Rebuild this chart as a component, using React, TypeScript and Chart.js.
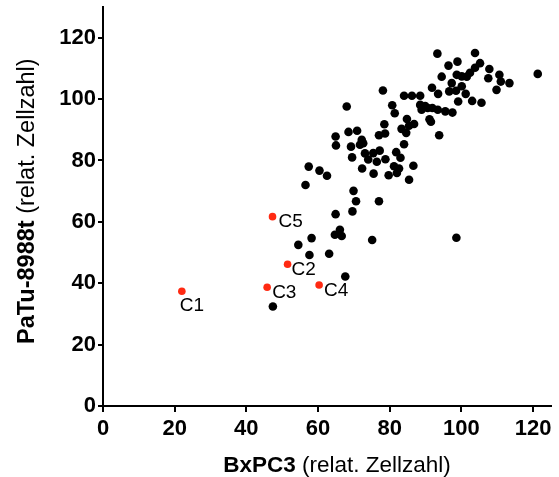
import { useEffect, useRef } from "react";
import { Chart, registerables } from "chart.js";

Chart.register(...registerables);

// ---- data ----
const blackX = [
  121.3, 93.3, 103.8, 96.4, 98.9, 105.2, 103.8, 107.8, 94.5, 98.7, 100.1, 101.5, 102.4,
  107.5, 110.6, 111.0, 113.4, 109.8, 97.3, 100.1, 91.8, 93.5, 96.6, 98.5, 101.2, 99.1,
  103.0, 105.6, 88.5, 86.2, 84.0, 78.1, 68.0, 80.7, 81.4, 88.5, 89.9, 88.9, 90.6, 91.9,
  93.4, 95.5, 97.5, 91.1, 91.5, 84.8, 83.3, 85.4, 86.8, 84.6, 78.5, 93.8, 68.5, 70.9,
  64.9, 72.2, 72.6, 71.7, 65.0, 69.2, 77.0, 78.7, 84.0, 69.5, 73.1, 75.4, 77.2, 74.0,
  76.4, 78.8, 81.8, 83.0, 81.2, 82.6, 82.0, 86.6, 72.3, 57.4, 60.4, 62.5, 75.5, 79.7,
  85.4, 56.5, 69.9, 70.6, 77.0, 64.9, 69.6, 54.5, 58.2, 64.7, 66.1, 66.6, 75.1, 98.6,
  57.6, 63.1, 67.6, 47.4,
];
const blackY = [
  108.2, 114.8, 115.0, 110.9, 112.2, 111.7, 110.2, 109.8, 107.3, 107.9, 107.4, 107.3, 108.6,
  106.8, 107.9, 105.7, 105.2, 103.0, 105.2, 104.2, 103.7, 101.7, 102.5, 102.7, 101.7, 99.2,
  99.4, 98.8, 101.1, 101.1, 101.1, 102.8, 97.6, 98.0, 95.4, 98.1, 97.7, 96.5, 97.1, 97.1,
  96.5, 96.0, 95.6, 93.4, 92.6, 93.5, 90.3, 91.3, 91.9, 89.0, 91.8, 88.2, 89.3, 89.7,
  87.8, 86.7, 85.6, 85.1, 84.9, 84.5, 88.2, 88.8, 85.3, 81.0, 82.3, 82.4, 83.2, 80.3,
  79.6, 80.4, 82.7, 80.9, 78.1, 77.4, 75.9, 78.3, 77.4, 78.0, 76.7, 75.0, 75.7, 75.2,
  73.7, 72.0, 70.1, 66.7, 66.7, 62.5, 63.4, 52.5, 54.7, 55.8, 57.4, 55.4, 54.1, 54.8,
  49.2, 49.6, 42.2, 32.4,
];
const redLabels = ["C1", "C2", "C3", "C4", "C5"];
const redX = [22.0, 51.5, 45.8, 60.3, 47.3];
const redY = [37.4, 46.2, 38.7, 39.4, 61.7];
const xTicks = [0, 20, 40, 60, 80, 100, 120];
const yTicks = [0, 20, 40, 60, 80, 100, 120];
const xTitleBold = "BxPC3";
const xTitleRest = " (relat. Zellzahl)";
const yTitleBold = "PaTu-8988t";
const yTitleRest = " (relat. Zellzahl)";

// ---- styles ----
const FONT = '"Liberation Sans", Arial, Helvetica, sans-serif';
const RED = "#ff2a12";
const labelOffsets: [number, number][] = [
  [-2, 15],
  [4, 6],
  [5, 6],
  [5, 6],
  [6, 5],
];

const pointLabelPlugin = {
  id: "pointLabels",
  afterDatasetsDraw(chart: any) {
    const meta = chart.getDatasetMeta(1);
    const ctx = chart.ctx;
    ctx.save();
    ctx.font = `19px ${FONT}`;
    ctx.fillStyle = "#000";
    ctx.textBaseline = "middle";
    ctx.textAlign = "left";
    meta.data.forEach((pt: any, i: number) => {
      const off = labelOffsets[i];
      ctx.fillText(redLabels[i], pt.x + off[0], pt.y + off[1]);
    });
    ctx.restore();
  },
};

const axisTitlePlugin = {
  id: "axisTitles",
  afterDraw(chart: any) {
    const { ctx, chartArea } = chart;
    ctx.save();
    ctx.fillStyle = "#000";
    ctx.textBaseline = "alphabetic";
    ctx.textAlign = "left";
    // x title
    const xb = `bold 22.5px ${FONT}`;
    const xr = `22.5px ${FONT}`;
    ctx.font = xb;
    const wb = ctx.measureText(xTitleBold).width;
    ctx.font = xr;
    const wr = ctx.measureText(xTitleRest).width;
    const cx = (chartArea.left + chartArea.right) / 2 + 10;
    const x0 = cx - (wb + wr) / 2;
    const by = chartArea.bottom + 66;
    ctx.font = xb;
    ctx.fillText(xTitleBold, x0, by);
    ctx.font = xr;
    ctx.fillText(xTitleRest, x0 + wb, by);
    // y title (reads bottom to top, starts near the x axis)
    const yB = `bold 23.5px ${FONT}`;
    const yR = `23.5px ${FONT}`;
    ctx.font = yB;
    const yb = ctx.measureText(yTitleBold).width;
    ctx.translate(chartArea.left - 69, chartArea.bottom - 62);
    ctx.rotate(-Math.PI / 2);
    ctx.fillText(yTitleBold, 0, 0);
    ctx.font = yR;
    ctx.fillText(yTitleRest, yb, 0);
    ctx.restore();
  },
};

export default function App() {
  const ref = useRef<HTMLCanvasElement | null>(null);

  useEffect(() => {
    if (!ref.current) return;
    const tickFont = { family: FONT, size: 22, weight: "bold" as const };
    const chart = new Chart(ref.current, {
      type: "scatter",
      data: {
        datasets: [
          {
            data: blackX.map((x, i) => ({ x, y: blackY[i] })),
            backgroundColor: "#000",
            borderWidth: 0,
            pointRadius: 4.3,
          },
          {
            data: redX.map((x, i) => ({ x, y: redY[i] })),
            backgroundColor: RED,
            borderWidth: 0,
            pointRadius: 3.8,
          },
        ],
      },
      options: {
        responsive: false,
        animation: false,
        layout: { padding: { top: 7, right: 8, left: 0, bottom: 0 } },
        plugins: { legend: { display: false }, tooltip: { enabled: false } },
        scales: {
          x: {
            type: "linear",
            min: 0,
            max: 125,
            afterBuildTicks: (s: any) => {
              s.ticks = xTicks.map((v) => ({ value: v }));
            },
            afterFit: (s: any) => {
              s.height = 71;
              s.paddingLeft = 0;
              s.paddingRight = 0;
            },
            border: { display: true, color: "#000", width: 2 },
            grid: {
              display: true,
              drawOnChartArea: false,
              drawTicks: true,
              tickLength: 6,
              tickWidth: 2,
              tickColor: "#000",
              lineWidth: 2,
              color: "#000",
            },
            ticks: { color: "#000", font: tickFont, padding: 4, maxRotation: 0, autoSkip: false },
          },
          y: {
            type: "linear",
            min: 0,
            max: 130,
            afterBuildTicks: (s: any) => {
              s.ticks = yTicks.map((v) => ({ value: v }));
            },
            afterFit: (s: any) => {
              s.width = 103;
              s.paddingTop = 0;
              s.paddingBottom = 0;
            },
            border: { display: true, color: "#000", width: 2 },
            grid: {
              display: true,
              drawOnChartArea: false,
              drawTicks: true,
              tickLength: 5,
              tickWidth: 2,
              tickColor: "#000",
              lineWidth: 2,
              color: "#000",
            },
            ticks: { color: "#000", font: tickFont, padding: 2, autoSkip: false },
          },
        },
      },
      plugins: [pointLabelPlugin, axisTitlePlugin],
    });
    return () => chart.destroy();
  }, []);

  return (
    <div style={{ position: "fixed", left: 0, top: 0, width: 559, height: 477, background: "#fff" }}>
      <canvas ref={ref} width={559} height={477} style={{ display: "block" }} />
    </div>
  );
}
